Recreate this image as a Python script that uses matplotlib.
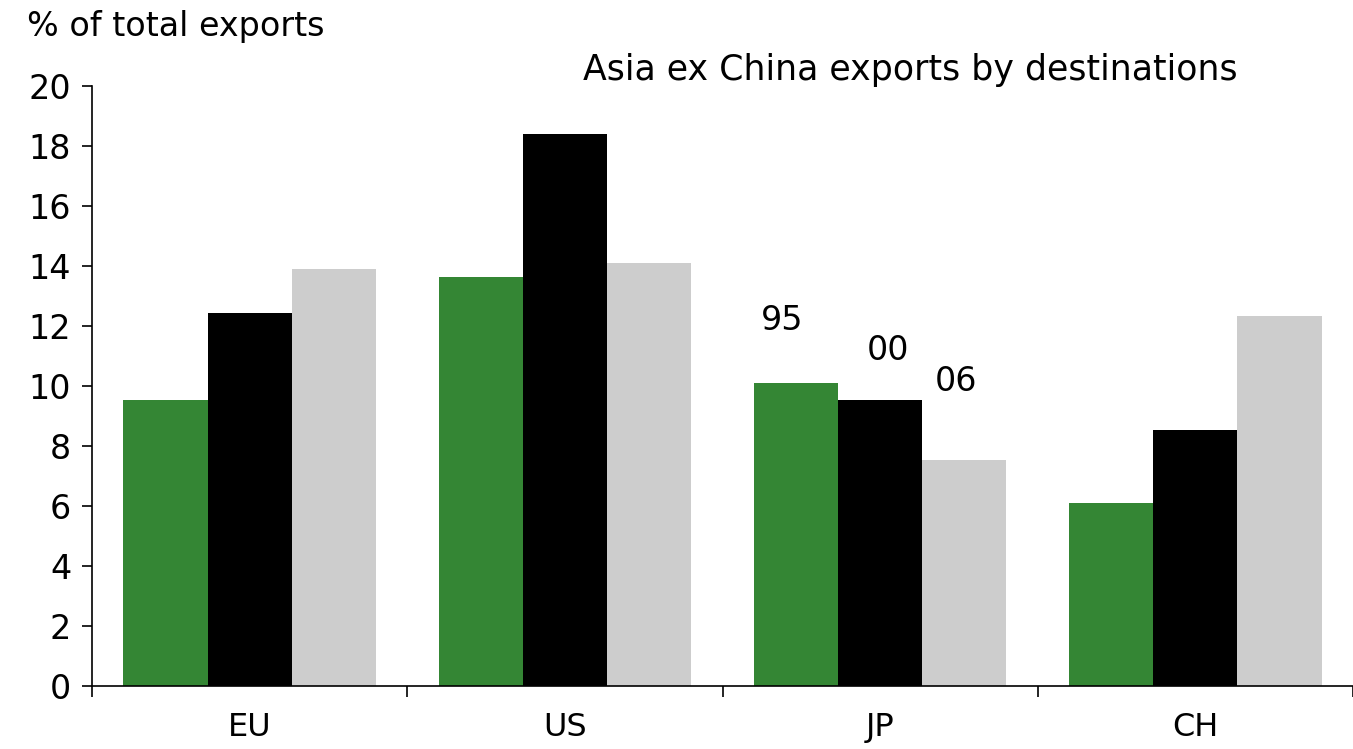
import matplotlib
matplotlib.use("Agg")
import matplotlib.pyplot as plt
import numpy as np

# the reference type is wide, DejaVu gets closer to its width than Arial clones
plt.rcParams['font.family'] = ['DejaVu Sans']

# Data
regions = ["EU", "US", "JP", "CH"]
years = ["95", "00", "06"]
share_95 = [9.55, 13.65, 10.1, 6.1]
share_00 = [12.45, 18.4, 9.55, 8.55]
share_06 = [13.9, 14.1, 7.55, 12.35]
colors = ["#348634", "#000000", "#cdcdcd"]

fig = plt.figure(figsize=(13.53, 7.49), dpi=100)
ax = fig.add_axes([0.068, 0.084, 0.932, 0.801])

x = np.arange(len(regions))
w = 0.267
for i, (vals, c) in enumerate(zip([share_95, share_00, share_06], colors)):
    ax.bar(x + (i - 1) * w, vals, width=w, color=c, edgecolor="none")

# Year labels above the JP group
ax.text(2 - 0.31, 12.2, years[0], fontsize=24, ha="center", va="center")
ax.text(2 + 0.025, 11.2, years[1], fontsize=24, ha="center", va="center")
ax.text(2 + 0.24, 10.15, years[2], fontsize=24, ha="center", va="center")

ax.set_xlim(-0.5, 3.5)
ax.set_ylim(0, 20)
ax.set_yticks(range(0, 21, 2))
ax.tick_params(axis="y", labelsize=24, direction="out", length=7, width=1.2, pad=8)

# category boundaries as ticks, labels in the middle
ax.set_xticks(np.arange(-0.5, 3.6, 1))
ax.set_xticklabels([])
ax.tick_params(axis="x", direction="out", length=8, width=1.2)
for xi, lab in zip(x, regions):
    ax.text(xi, -1.38, lab, fontsize=23, ha="center", va="center")

for side in ["top", "right"]:
    ax.spines[side].set_visible(False)
for side in ["left", "bottom"]:
    ax.spines[side].set_linewidth(1.2)

fig.text(0.02, 0.965, "% of total exports", fontsize=24, ha="left", va="center")
fig.text(0.673, 0.907, "Asia ex China exports by destinations", fontsize=25, ha="center", va="center")

fig.savefig("out.png", dpi=100)
